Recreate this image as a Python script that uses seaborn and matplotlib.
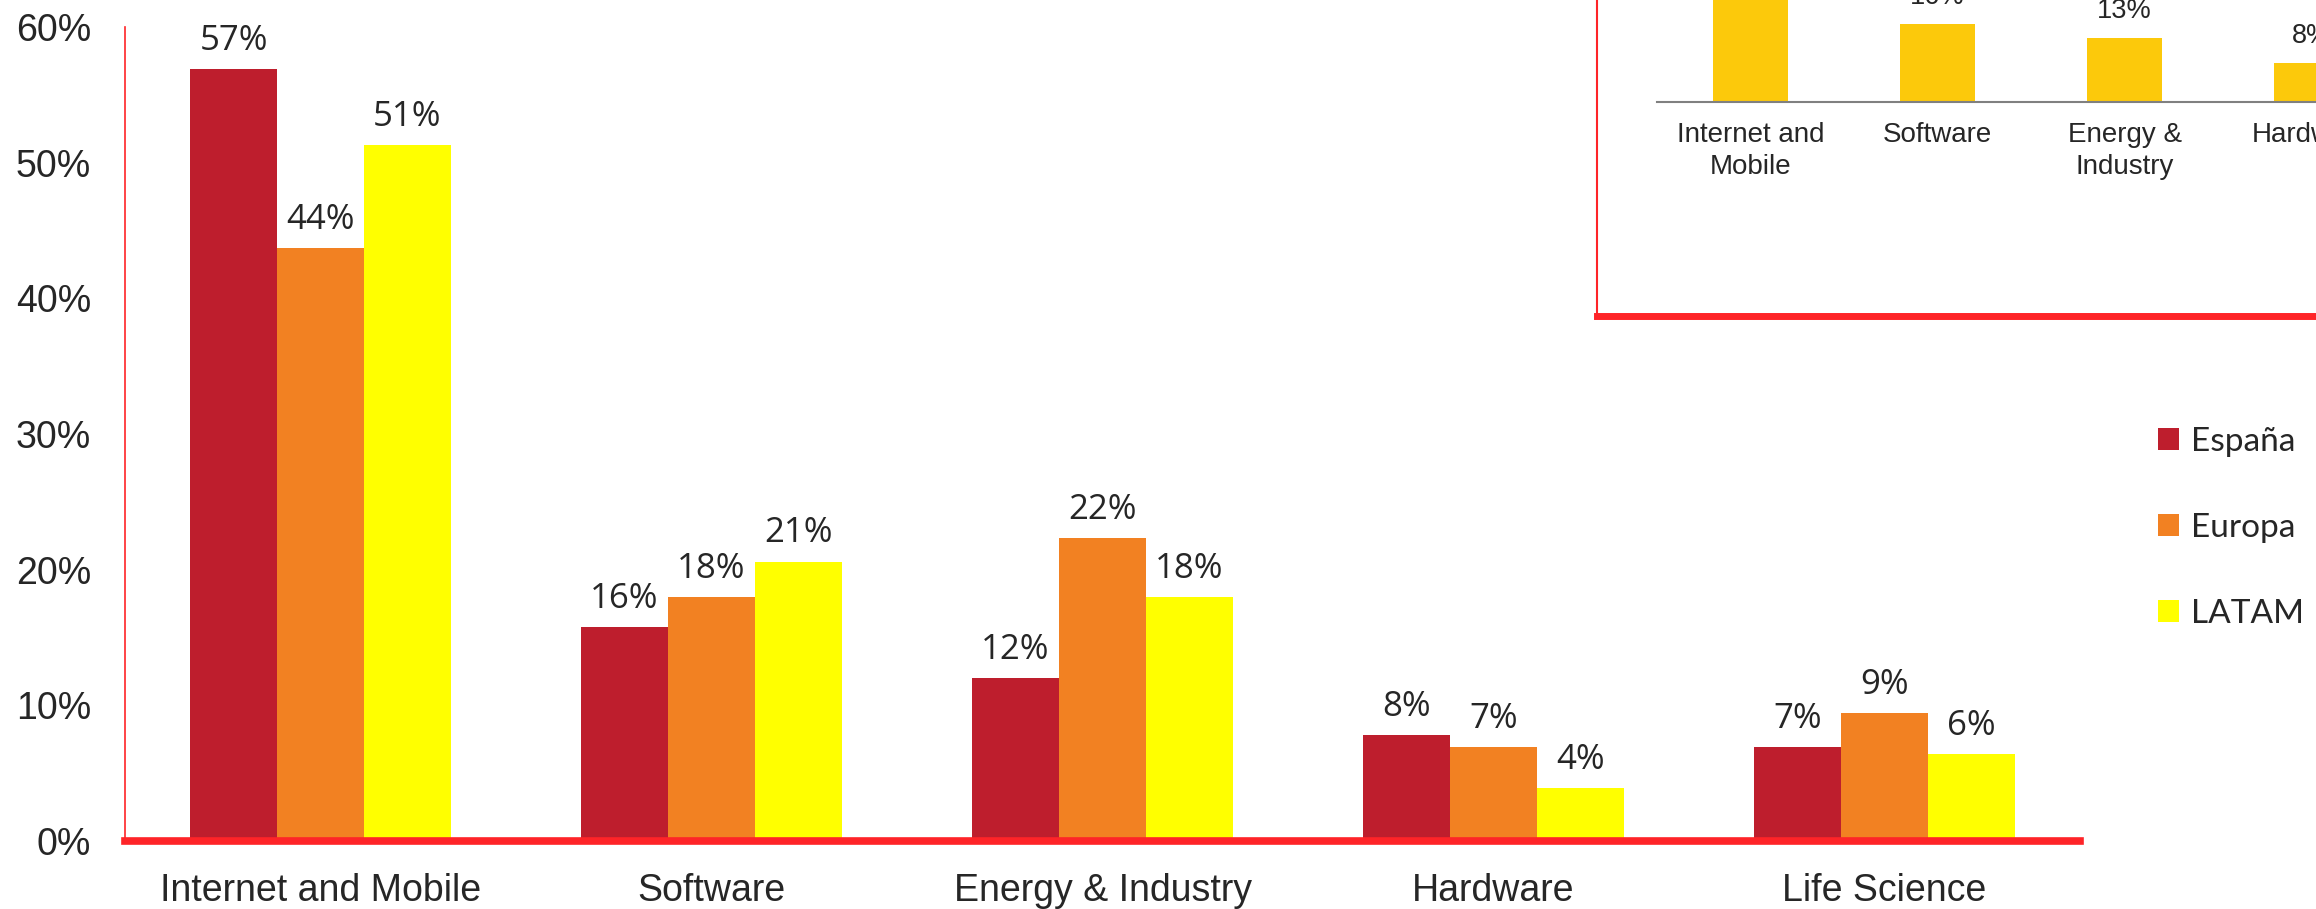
import pandas as pd
import matplotlib.pyplot as plt
import seaborn as sns

# ---- data ----
categories = ["Internet and Mobile", "Software", "Energy & Industry", "Hardware", "Life Science"]
regions = ["España", "Europa", "LATAM"]
espana = [56.9, 15.8, 12.0, 7.8, 6.9]
europa = [43.7, 18.0, 22.3, 6.9, 9.4]
latam = [51.3, 20.6, 18.0, 3.9, 6.4]

inset_categories = ["Internet and\nMobile", "Software", "Energy &\nIndustry", "Hardware"]
inset_values = [40.0, 15.9, 13.0, 7.9]

y_ticks = [0, 10, 20, 30, 40, 50, 60]

# colours
region_colors = ["#BE1E2D", "#F28122", "#FFFF00"]
inset_color = "#FCC90B"
red_line = "#FE2428"

sns.set_theme(style="white")
plt.rcParams["font.family"] = ["Liberation Sans", "DejaVu Sans"]

df = pd.DataFrame({
    "category": categories * 3,
    "region": [r for r in regions for _ in categories],
    "value": espana + europa + latam,
})

W, H = 2316, 909
fig = plt.figure(figsize=(W / 100, H / 100), dpi=100)

# ---- main chart ----
ax = fig.add_axes([125 / W, 1 - 841 / H, (2080 - 125) / W, (841 - 27) / H])
sns.barplot(data=df, x="category", y="value", hue="region", order=categories,
            hue_order=regions, palette=region_colors, saturation=1, width=0.667,
            linewidth=0, ax=ax)
ax.set_xlim(-0.5, len(categories) - 0.5)
ax.set_ylim(0, 60)
ax.set_yticks(y_ticks)
ax.set_yticklabels([f"{t}%" for t in y_ticks])
ax.set_xlabel("")
ax.set_ylabel("")
ax.tick_params(axis="y", length=0, pad=24.5, labelsize=27)
ax.tick_params(axis="x", length=0, pad=23, labelsize=27)
for s in ["top", "right"]:
    ax.spines[s].set_visible(False)
ax.spines["left"].set_color(red_line)
ax.spines["left"].set_linewidth(1.2)
ax.spines["bottom"].set_color(red_line)
ax.spines["bottom"].set_linewidth(5.5)

for cont, vals in zip(ax.containers, [espana, europa, latam]):
    ax.bar_label(cont, labels=[f"{v:.0f}%" for v in vals], padding=8,
                 fontsize=25, family="Open Sans")

handles, labels = ax.get_legend_handles_labels()
ax.get_legend().remove()
fig.legend(handles, labels, loc="center left", bbox_to_anchor=(2158 / W, 1 - 528 / H),
           frameon=False, prop={"family": "Lato", "size": 24},
           handlelength=0.63, handleheight=0.63, handletextpad=0.35,
           labelspacing=1.68, borderpad=0, borderaxespad=0)

# ---- inset (cut off by the figure edge) ----
frame = fig.add_axes([1597 / W, 1 - 316 / H, 1.0, 0.6])
frame.set_facecolor("none")
frame.set_xticks([])
frame.set_yticks([])
for s in ["top", "right"]:
    frame.spines[s].set_visible(False)
frame.spines["left"].set_color(red_line)
frame.spines["left"].set_linewidth(1.5)
frame.spines["bottom"].set_color(red_line)
frame.spines["bottom"].set_linewidth(5)

inset = fig.add_axes([1657 / W, 1 - 102 / H, 4 * 187 / W, 147.6 / H])
sns.barplot(x=inset_categories, y=inset_values, color=inset_color, saturation=1,
            width=0.4, linewidth=0, ax=inset)
inset.set_facecolor("none")
inset.set_xlim(-0.5, 3.5)
inset.set_ylim(0, 30)
inset.set_yticks([])
inset.set_xlabel("")
inset.set_ylabel("")
inset.tick_params(axis="x", length=0, pad=14.5, labelsize=20)
for label in inset.get_xticklabels():
    label.set_linespacing(1.3)
for s in ["top", "right", "left"]:
    inset.spines[s].set_visible(False)
inset.spines["bottom"].set_color("#808080")
inset.spines["bottom"].set_linewidth(1.5)
inset.bar_label(inset.containers[0], labels=[f"{v:.0f}%" for v in inset_values],
                padding=10, fontsize=19.5)

fig.savefig("out.png", dpi=100)
